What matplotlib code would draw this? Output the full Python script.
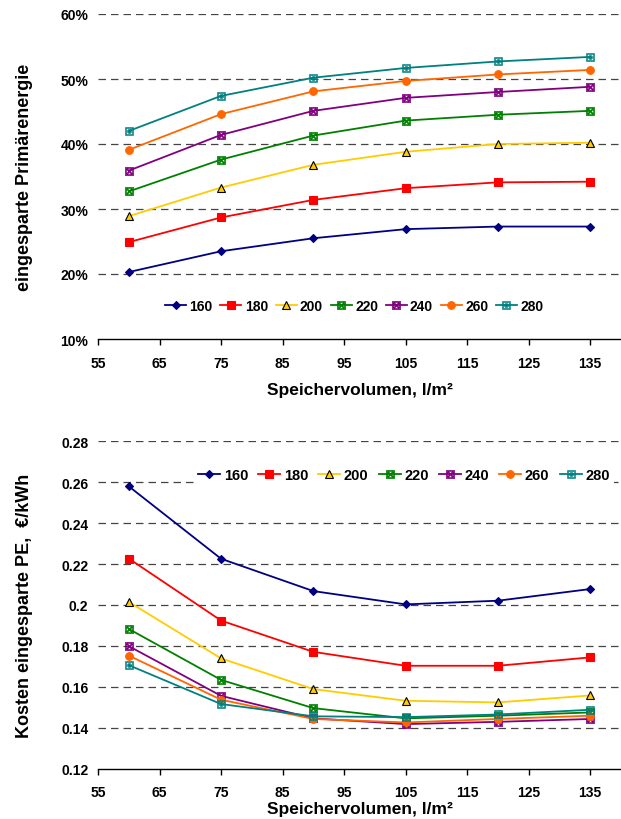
import matplotlib
matplotlib.use('Agg')
import matplotlib.pyplot as plt
from matplotlib.ticker import FuncFormatter

plt.rcParams['font.family'] = ['Liberation Sans', 'DejaVu Sans']
plt.rcParams['font.weight'] = 'bold'
plt.rcParams['mathtext.fontset'] = 'dejavusans'

# Speichervolumen, l/m2
volumen = [60, 75, 90, 105, 120, 135]
labels = ['160', '180', '200', '220', '240', '260', '280']

# eingesparte Primärenergie, %
pe_160 = [20.3, 23.5, 25.5, 26.9, 27.3, 27.3]
pe_180 = [24.9, 28.7, 31.4, 33.2, 34.1, 34.2]
pe_200 = [28.9, 33.3, 36.8, 38.8, 40.0, 40.2]
pe_220 = [32.7, 37.6, 41.3, 43.6, 44.5, 45.1]
pe_240 = [35.9, 41.4, 45.1, 47.1, 48.0, 48.8]
pe_260 = [39.1, 44.6, 48.1, 49.7, 50.7, 51.4]
pe_280 = [42.0, 47.4, 50.2, 51.7, 52.7, 53.4]

# Kosten eingesparte PE, EUR/kWh
cost_160 = [0.258, 0.2226, 0.2068, 0.2003, 0.2021, 0.2078]
cost_180 = [0.2227, 0.1924, 0.1771, 0.1703, 0.1703, 0.1744]
cost_200 = [0.2015, 0.1739, 0.1589, 0.1532, 0.1524, 0.1558]
cost_220 = [0.1883, 0.1634, 0.1496, 0.1446, 0.1459, 0.1475]
cost_240 = [0.1799, 0.1556, 0.1446, 0.1418, 0.1429, 0.1443]
cost_260 = [0.1753, 0.1537, 0.1443, 0.1426, 0.1443, 0.1459]
cost_280 = [0.1706, 0.1516, 0.1456, 0.1452, 0.1465, 0.1488]

pe_all = [pe_160, pe_180, pe_200, pe_220, pe_240, pe_260, pe_280]
cost_all = [cost_160, cost_180, cost_200, cost_220, cost_240, cost_260, cost_280]

# Excel-artige Stile: Farbe, Marker, Größe
styles = [
    dict(color='#000080', marker='D', ms=4.5, mec='#000080', mew=0.8),
    dict(color='#FF0000', marker='s', ms=5.5, mec='#FF0000', mew=0.8),
    dict(color='#FFCC00', marker='^', ms=6, mec='black', mew=0.8),
    dict(color='#008000', marker=r'$\boxtimes$', ms=6, mec='#008000', mew=0.4),
    dict(color='#800080', marker=r'$\boxtimes$', ms=6, mec='#800080', mew=0.4),
    dict(color='#FF6600', marker='o', ms=5.5, mec='#FF6600', mew=0.8),
    dict(color='#008080', marker=r'$\boxplus$', ms=6, mec='#008080', mew=0.4),
]


def draw(ax, series, ylim, yticks, fmt, ylabel, leg_anchor, leg_size, leg_space, xlabelpad):
    for vals, st, lab in zip(series, styles, labels):
        ax.plot(volumen, vals, color=st['color'], lw=1.3, marker=st['marker'],
                ms=st['ms'], mfc=st['color'], mec=st['mec'], mew=st['mew'],
                label=lab, zorder=3)

    ax.set_xlim(55, 140)
    ax.set_xticks(range(55, 140, 10))
    ax.set_ylim(*ylim)
    ax.set_yticks(yticks)
    ax.yaxis.set_major_formatter(FuncFormatter(fmt))
    for y in yticks[1:]:
        ax.axhline(y, color='#444444', lw=0.9, ls=(0, (6, 4)), zorder=1)

    for s in ['top', 'right', 'left']:
        ax.spines[s].set_visible(False)
    ax.spines['bottom'].set_linewidth(1.0)
    ax.tick_params(axis='x', direction='out', length=4, width=1, pad=8, labelsize=10)
    ax.tick_params(axis='y', length=0, pad=7, labelsize=10)
    for t in ax.get_xticklabels() + ax.get_yticklabels():
        t.set_fontweight('bold')

    ax.set_xlabel('Speichervolumen, l/m²', fontsize=12.5, fontweight='bold', labelpad=xlabelpad)
    ax.set_ylabel(ylabel, fontsize=13, fontweight='bold')
    ax.yaxis.set_label_coords(-0.124, 0.5)

    leg = ax.legend(loc='center', bbox_to_anchor=leg_anchor, ncol=7,
                    frameon=True, framealpha=1, facecolor='white', edgecolor='none',
                    handlelength=1.5, handletextpad=0.25, columnspacing=leg_space,
                    borderpad=0.3, prop=dict(weight='bold', size=leg_size))
    leg.set_zorder(5)


fig = plt.figure(figsize=(6.21, 8.2), dpi=100)
ax1 = fig.add_axes([98 / 621, 480 / 820, 523 / 621, 325 / 820])
ax2 = fig.add_axes([98 / 621, 50.3 / 820, 523 / 621, 327.4 / 820])

draw(ax1, pe_all, (10, 60), [10, 20, 30, 40, 50, 60], lambda v, p: f'{v:.0f}%',
     'eingesparte Primärenergie', (0.49, 0.102), 10, 0.55, 9)
draw(ax2, cost_all, (0.12, 0.28), [0.12, 0.14, 0.16, 0.18, 0.20, 0.22, 0.24, 0.26, 0.28],
     lambda v, p: f'{round(v, 2):g}', 'Kosten eingesparte PE,  €/kWh', (0.585, 0.897),
     10.5, 0.7, 1)

fig.savefig('out.png', dpi=100)
